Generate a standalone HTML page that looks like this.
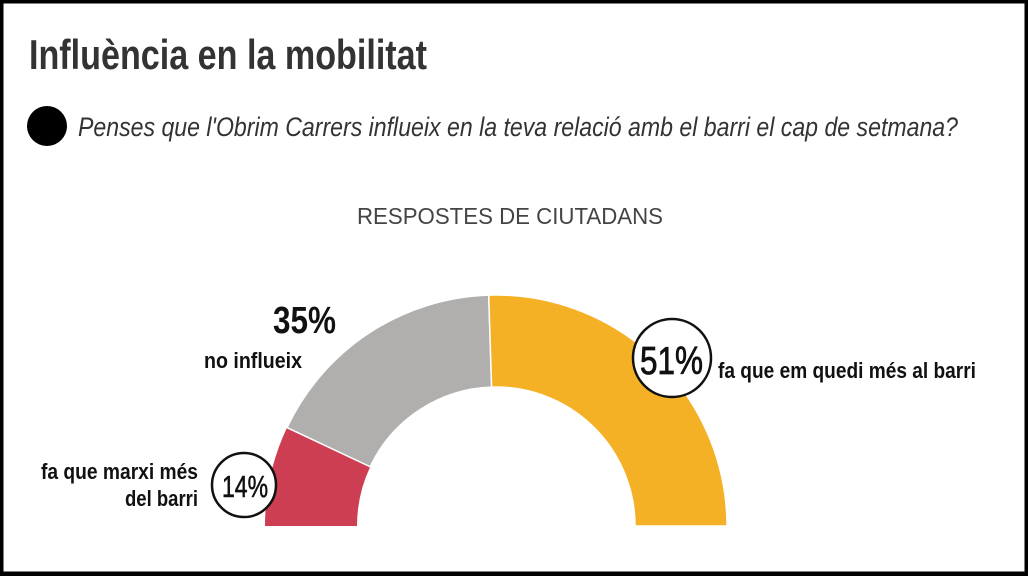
<!DOCTYPE html>
<html><head><meta charset="utf-8"><style>
html,body{margin:0;padding:0;background:#fff}
svg{display:block}
text{font-family:"Liberation Sans",sans-serif}
</style></head><body>
<svg width="1028" height="576" viewBox="0 0 1028 576" xmlns="http://www.w3.org/2000/svg">
<rect x="0" y="0" width="1028" height="576" fill="#fff"/>
<rect x="1.5" y="1.5" width="1025" height="572" fill="none" stroke="#000" stroke-width="4"/>
<rect x="0" y="572" width="1028" height="4" fill="#000"/>
<text x="29" y="69" font-size="42" font-weight="bold" fill="#333" textLength="398" lengthAdjust="spacingAndGlyphs">Influència en la mobilitat</text>
<circle cx="47" cy="126" r="20" fill="#000"/>
<text x="78" y="136" font-size="27" font-style="italic" fill="#333" textLength="880" lengthAdjust="spacingAndGlyphs">Penses que l'Obrim Carrers influeix en la teva relació amb el barri el cap de setmana?</text>
<text x="357" y="224" font-size="23" fill="#444" textLength="306" lengthAdjust="spacingAndGlyphs">RESPOSTES DE CIUTADANS</text>
<path d="M265,526 A231,231 0 0 1 287,427.6 L370.2,466.8 A139,139 0 0 0 357,526 Z" fill="#cd3e53"/>
<path d="M287,427.6 A231,231 0 0 1 488.7,295.1 L491.6,387.1 A139,139 0 0 0 370.2,466.8 Z" fill="#b1aeae" stroke="#fff" stroke-width="1.5"/>
<path d="M488.7,295.1 A231,231 0 0 1 727,526 L635,526 A139,139 0 0 0 491.6,387.1 Z" fill="#f4b125" stroke="#fff" stroke-width="1.5"/>
<rect x="260" y="526" width="480" height="10" fill="#fff"/>
<text x="273" y="333" font-size="38" font-weight="bold" fill="#111" textLength="63" lengthAdjust="spacingAndGlyphs">35%</text>
<text x="204" y="368" font-size="22" font-weight="bold" fill="#111" textLength="98" lengthAdjust="spacingAndGlyphs">no influeix</text>
<circle cx="672" cy="358" r="39" fill="#fff" stroke="#111" stroke-width="2.5"/>
<text x="640" y="374" font-size="39" fill="#111" stroke="#111" stroke-width="0.8" textLength="63" lengthAdjust="spacingAndGlyphs">51%</text>
<text x="718" y="378" font-size="22" font-weight="bold" fill="#111" textLength="258" lengthAdjust="spacingAndGlyphs">fa que em quedi més al barri</text>
<circle cx="244" cy="485" r="32" fill="#fff" stroke="#111" stroke-width="2.5"/>
<text x="222" y="497" font-size="31" fill="#111" stroke="#111" stroke-width="0.6" textLength="46" lengthAdjust="spacingAndGlyphs">14%</text>
<text x="41" y="479" font-size="22" font-weight="bold" fill="#111" textLength="157" lengthAdjust="spacingAndGlyphs">fa que marxi més</text>
<text x="125" y="506" font-size="22" font-weight="bold" fill="#111" textLength="73" lengthAdjust="spacingAndGlyphs">del barri</text>
</svg>
</body></html>
